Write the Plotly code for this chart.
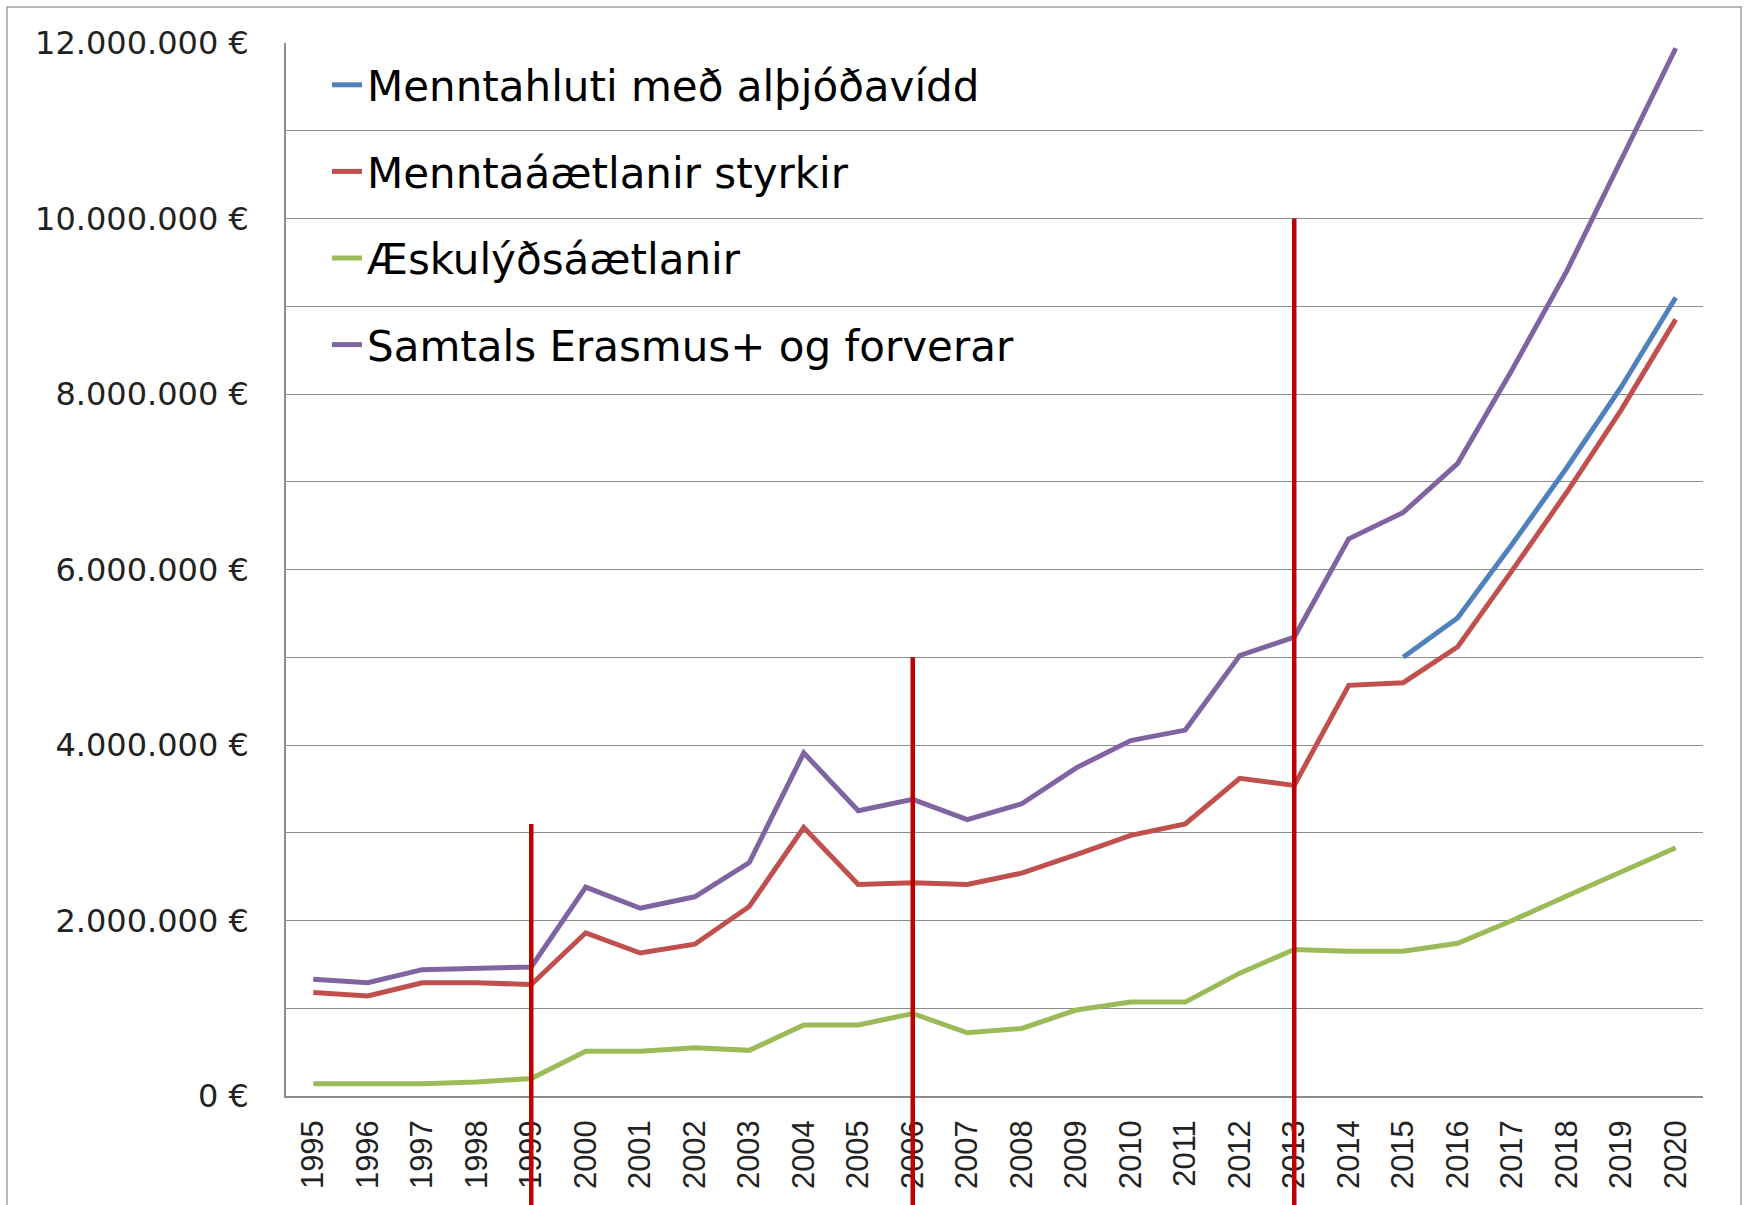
import plotly.graph_objects as go

# ---- data ----
years = [str(y) for y in range(1995, 2021)]

menntahluti = [None] * 20 + [5000000, 5450000, 6290000, 7160000, 8080000, 9100000]
menntaaaetlanir = [1180000, 1140000, 1290000, 1290000, 1270000, 1860000, 1630000, 1730000,
                   2160000, 3060000, 2410000, 2430000, 2410000, 2540000, 2750000, 2970000,
                   3100000, 3620000, 3540000, 4680000, 4710000, 5120000, 5990000, 6880000,
                   7820000, 8850000]
aeskulyds = [140000, 140000, 140000, 160000, 200000, 510000, 510000, 550000, 520000, 810000,
             810000, 940000, 720000, 770000, 980000, 1070000, 1070000, 1400000, 1670000,
             1650000, 1650000, 1740000, 2000000, 2280000, 2550000, 2830000]
samtals = [1330000, 1290000, 1440000, 1450000, 1470000, 2380000, 2140000, 2270000, 2660000,
           3910000, 3250000, 3380000, 3150000, 3330000, 3740000, 4050000, 4170000, 5020000,
           5230000, 6350000, 6650000, 7210000, 8280000, 9400000, 10680000, 11940000]

series_names = ["Menntahluti með alþjóðavídd", "Menntaáætlanir styrkir",
                "Æskulýðsáætlanir", "Samtals Erasmus+ og forverar"]
series_values = [menntahluti, menntaaaetlanir, aeskulyds, samtals]
series_colors = ["#4F81BD", "#C0504D", "#9BBB59", "#8064A2"]

# red marker lines: (year, top value)
marker_years = ["1999", "2006", "2013"]
marker_tops = [3100000, 5000000, 10000000]

Y_MAX = 12000000

# ---- layout constants ----
W, H = 1744, 1205
ML, MR, MT, MB = 286, 41, 43, 109
PW, PH = W - ML - MR, H - MT - MB

fig = go.Figure()
for name, vals, col in zip(series_names, series_values, series_colors):
    fig.add_trace(go.Scatter(
        x=years, y=vals, name=name, mode="lines", legendgroup=name,
        line=dict(color=col, width=5), connectgaps=False,
    ))

shapes = []
n_cat = len(years)
for yr, top in zip(marker_years, marker_tops):
    # position on the category axis (range -0.5 .. n-0.5) and linear y axis (0 .. Y_MAX)
    xp = (years.index(yr) + 0.5) / n_cat
    shapes.append(dict(type="line", xref="paper", yref="paper", x0=xp, x1=xp,
                       y0=-0.3, y1=top / Y_MAX, layer="above",
                       line=dict(color="#C00000", width=4.5)))
# outer chart frame
shapes.append(dict(type="rect", xref="paper", yref="paper",
                   x0=(7 - ML) / PW, x1=(1741 - ML) / PW,
                   y0=-0.3, y1=1 + (MT - 7) / PH,
                   line=dict(color="#A0A0A0", width=1.5), layer="below"))

fig.update_layout(
    width=W, height=H,
    margin=dict(l=ML, r=MR, t=MT, b=MB),
    paper_bgcolor="white", plot_bgcolor="white",
    separators=",.",
    showlegend=True,
    legend=dict(x=(327 - ML) / PW, y=1 - (51 - MT) / PH, xanchor="left", yanchor="top",
                bgcolor="rgba(0,0,0,0)", borderwidth=0,
                font=dict(family="DejaVu Sans", size=42, color="#000000"),
                tracegroupgap=29, itemwidth=30),
    shapes=shapes,
    xaxis=dict(type="category", range=[-0.5, n_cat - 0.5],
               showgrid=False, showline=True, linecolor="#8C8C8C", linewidth=1.5,
               tickangle=-90, ticks="", ticklabelstandoff=10,
               tickfont=dict(family="Liberation Sans", size=31, color="#222222")),
    yaxis=dict(range=[0, Y_MAX], dtick=2000000, tickformat=",.0f", ticksuffix=" €",
               showgrid=True, gridcolor="#8C8C8C", gridwidth=1.3,
               minor=dict(dtick=1000000, showgrid=True, gridcolor="#8C8C8C", gridwidth=1.3),
               zeroline=False, showline=True, linecolor="#8C8C8C", linewidth=1.5,
               ticks="", ticklabelstandoff=29,
               tickfont=dict(family="DejaVu Sans", size=32, color="#222222")),
)

fig.write_html("out.html", config={"displayModeBar": False},
               post_script="document.body.style.margin='0';")
